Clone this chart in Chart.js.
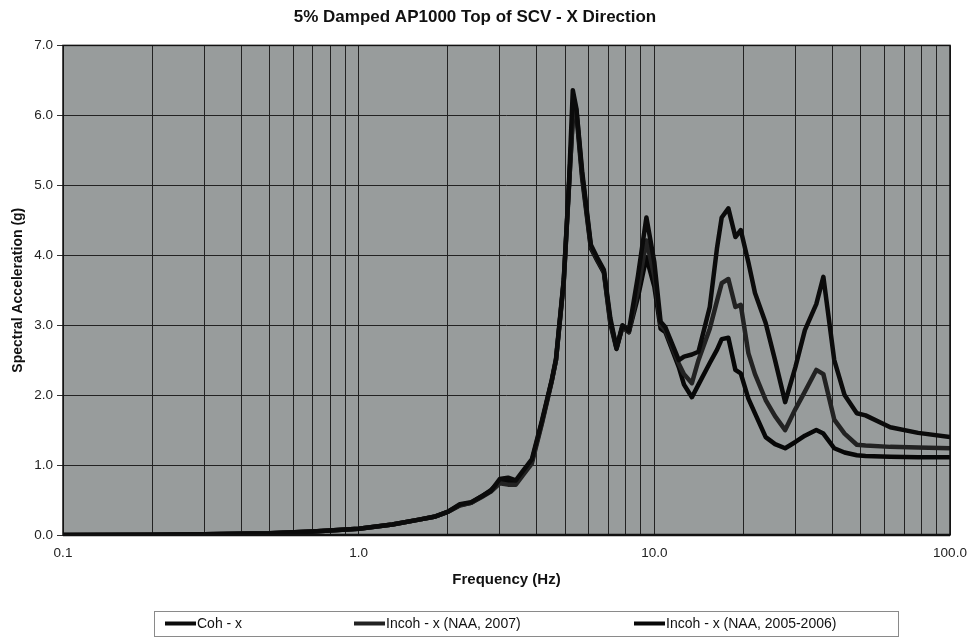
<!DOCTYPE html>
<html>
<head>
<meta charset="utf-8">
<script src="https://cdn.jsdelivr.net/npm/chart.js@4"></script>
<style>
  html, body { margin: 0; padding: 0; background: #ffffff; }
  #wrap { width: 974px; height: 638px; position: relative; }
</style>
</head>
<body>
<div id="wrap"><canvas id="c" width="974" height="638"></canvas></div>
<script>
// ---- data ----
const titleText = "5% Damped AP1000 Top of SCV - X Direction";
const xTitle = "Frequency (Hz)";
const yTitle = "Spectral Acceleration (g)";
const seriesNames = ["Coh - x", "Incoh - x (NAA, 2007)", "Incoh - x (NAA, 2005-2006)"];

const freq = [0.1, 0.2, 0.3, 0.5, 0.7, 1.0, 1.3, 1.6, 1.8, 2.0,
  2.2, 2.4, 2.6, 2.8, 3.0, 3.2, 3.4, 3.6, 3.85, 4.17,
  4.5, 4.65, 4.94, 5.14, 5.3, 5.45, 5.7, 6.1, 6.4, 6.75,
  7.1, 7.45, 7.8, 8.2, 8.8, 9.4, 10.0, 10.5, 10.9, 12.1,
  12.6, 13.4, 14.1, 15.4, 16.3, 16.9, 17.8, 18.8, 19.6, 20.8,
  21.9, 23.8, 25.6, 27.7, 30.0, 32.3, 35.3, 37.3, 40.6, 44,
  48.4, 51.8, 62.8, 78, 100];

const cohX = [0.0, 0.005, 0.01, 0.025, 0.05, 0.09, 0.15, 0.22, 0.26, 0.33,
  0.44, 0.47, 0.55, 0.63, 0.80, 0.82, 0.78, 0.92, 1.08, 1.64,
  2.22, 2.52, 3.66, 5.0, 6.36, 6.1, 5.2, 4.15, 3.97, 3.79,
  3.1, 2.67, 3.0, 2.92, 3.7, 4.54, 3.9, 3.05, 2.97, 2.5,
  2.55, 2.58, 2.62, 3.26, 4.11, 4.54, 4.67, 4.26, 4.36, 3.9,
  3.46, 3.03, 2.5, 1.90, 2.4, 2.93, 3.3, 3.69, 2.5, 2.0,
  1.74, 1.71, 1.54, 1.46, 1.40];

const incoh2007 = [0.0, 0.005, 0.01, 0.025, 0.05, 0.09, 0.15, 0.22, 0.26, 0.33,
  0.42, 0.46, 0.54, 0.62, 0.74, 0.72, 0.72, 0.86, 1.02, 1.6,
  2.2, 2.5, 3.62, 4.95, 6.0, 6.08, 5.15, 4.12, 3.95, 3.77,
  3.05, 2.68, 2.98, 2.9, 3.5, 4.21, 3.7, 3.0, 2.93, 2.45,
  2.3, 2.17, 2.5, 2.95, 3.35, 3.6, 3.66, 3.26, 3.29, 2.6,
  2.3, 1.93, 1.7, 1.5, 1.8, 2.05, 2.36, 2.3, 1.65, 1.45,
  1.29, 1.28, 1.26, 1.25, 1.24];

const incoh0506 = [0.0, 0.005, 0.01, 0.025, 0.05, 0.09, 0.15, 0.22, 0.26, 0.33,
  0.43, 0.46, 0.55, 0.64, 0.76, 0.78, 0.74, 0.88, 1.05, 1.62,
  2.21, 2.5, 3.64, 4.97, 5.95, 6.02, 5.1, 4.1, 3.93, 3.75,
  3.02, 2.66, 2.97, 2.9, 3.4, 3.97, 3.55, 2.95, 2.9, 2.4,
  2.15, 1.97, 2.15, 2.46, 2.65, 2.8, 2.82, 2.36, 2.31, 1.95,
  1.74, 1.4, 1.3, 1.24, 1.33, 1.42, 1.50, 1.45, 1.24, 1.18,
  1.14, 1.13, 1.12, 1.11, 1.11];

const xGridValues = [0.1, 0.2, 0.3, 0.4, 0.5, 0.6, 0.7, 0.8, 0.9,
  1, 2, 3, 4, 5, 6, 7, 8, 9,
  10, 20, 30, 40, 50, 60, 70, 80, 90, 100];
const xLabelValues = [0.1, 1, 10, 100];

// ---- styling ----
const FONT = "'Liberation Sans', Arial, sans-serif";
const seriesColors = ["#0b0b0b", "#222222", "#070707"];

const toPts = (ys) => freq.map((f, i) => ({ x: f, y: ys[i] }));

const plotBg = {
  id: 'plotBg',
  beforeDraw(chart) {
    const { ctx, chartArea: a } = chart;
    ctx.save();
    ctx.fillStyle = '#989c9c';
    ctx.fillRect(a.left, a.top, a.right - a.left, a.bottom - a.top);
    ctx.restore();
  },
  afterDatasetsDraw(chart) {
    const { ctx, chartArea: a } = chart;
    ctx.save();
    ctx.strokeStyle = '#111';
    ctx.lineWidth = 1.5;
    ctx.strokeRect(a.left, a.top, a.right - a.left, a.bottom - a.top);
    ctx.lineWidth = 2.5;
    ctx.beginPath();
    ctx.moveTo(a.left, a.bottom);
    ctx.lineTo(a.right, a.bottom);
    ctx.stroke();
    ctx.restore();
  }
};

const customLegend = {
  id: 'customLegend',
  afterDraw(chart) {
    const { ctx } = chart;
    const box = { x: 154, y: 611, w: 744, h: 25 };
    const items = [165, 354, 634];
    ctx.save();
    ctx.fillStyle = '#ffffff';
    ctx.fillRect(box.x, box.y, box.w, box.h);
    ctx.strokeStyle = '#8a8a8a';
    ctx.lineWidth = 1;
    ctx.strokeRect(box.x + 0.5, box.y + 0.5, box.w, box.h);
    const cy = box.y + box.h / 2;
    chart.data.datasets.forEach((ds, i) => {
      const x0 = items[i];
      ctx.strokeStyle = ds.borderColor;
      ctx.lineWidth = 4;
      ctx.beginPath();
      ctx.moveTo(x0, cy);
      ctx.lineTo(x0 + 31, cy);
      ctx.stroke();
      ctx.fillStyle = '#111';
      ctx.font = "14px " + FONT;
      ctx.textBaseline = 'middle';
      ctx.textAlign = 'left';
      ctx.fillText(ds.label, x0 + 32, cy + 1);
    });
    ctx.restore();
  }
};

new Chart(document.getElementById('c'), {
  type: 'scatter',
  data: {
    datasets: [
      { label: seriesNames[0], data: toPts(cohX), borderColor: seriesColors[0] },
      { label: seriesNames[1], data: toPts(incoh2007), borderColor: seriesColors[1] },
      { label: seriesNames[2], data: toPts(incoh0506), borderColor: seriesColors[2] }
    ].map(d => Object.assign(d, {
      showLine: true, borderWidth: 4.5, pointRadius: 0, tension: 0,
      backgroundColor: d.borderColor, borderJoinStyle: 'round', borderCapStyle: 'round'
    }))
  },
  options: {
    responsive: false,
    animation: false,
    devicePixelRatio: 1,
    layout: { padding: { left: 0, right: 24, top: 0, bottom: 48 } },
    plugins: {
      legend: { display: false },
      tooltip: { enabled: false },
      title: {
        display: true,
        text: titleText,
        color: '#111',
        font: { family: FONT, size: 17, weight: 'bold' },
        padding: { top: 7, bottom: 18 }
      }
    },
    scales: {
      x: {
        type: 'logarithmic',
        min: 0.1, max: 100,
        afterBuildTicks(scale) {
          scale.ticks = xGridValues.map(v => ({ value: v }));
        },
        afterFit(scale) { scale.height = 55; },
        ticks: {
          autoSkip: false, maxRotation: 0,
          padding: 3,
          color: '#222',
          font: { family: FONT, size: 13.5 },
          callback(v) {
            return xLabelValues.some(p => Math.abs(p - v) < 1e-9) ? Number(v).toFixed(1) : '';
          }
        },
        grid: { color: '#222', lineWidth: 1, drawTicks: true, tickLength: 7, tickColor: 'rgba(0,0,0,0)' },
        border: { display: false },
        title: {
          display: true, text: xTitle, color: '#111',
          font: { family: FONT, size: 15, weight: 'bold' },
          padding: { top: 4, bottom: 1 }
        }
      },
      y: {
        min: 0, max: 7,
        afterFit(scale) { scale.width = 63; },
        ticks: {
          stepSize: 1,
          padding: 4,
          color: '#222',
          font: { family: FONT, size: 13.5 },
          callback(v) { return Number(v).toFixed(1); }
        },
        grid: { color: '#222', lineWidth: 1, tickLength: 6, tickColor: '#333' },
        border: { display: false },
        title: {
          display: true, text: yTitle, color: '#111',
          font: { family: FONT, size: 14, weight: 'bold' },
          padding: { top: 10, bottom: 0 }
        }
      }
    }
  },
  plugins: [plotBg, customLegend]
});
</script>
</body>
</html>
